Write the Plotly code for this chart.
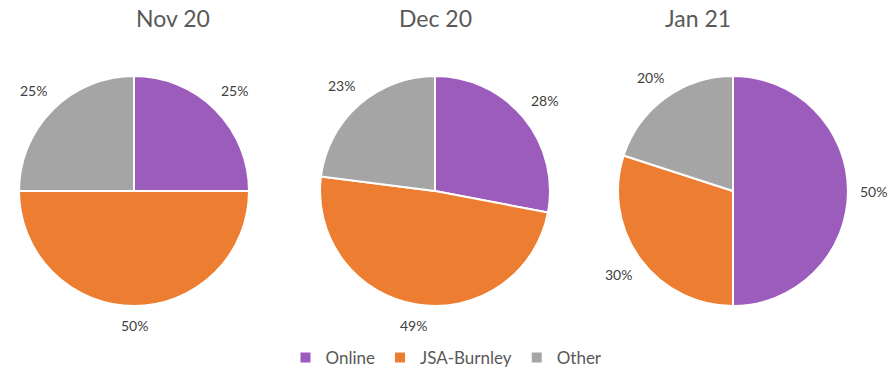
import math
import plotly.graph_objects as go

months = ["Nov 20", "Dec 20", "Jan 21"]
categories = ["Online", "JSA-Burnley", "Other"]
nov_values = [25, 50, 25]
dec_values = [28, 49, 23]
jan_values = [50, 30, 20]
colors = ["#9B5CBB", "#ED7D31", "#A5A5A5"]

W, H = 893, 376
series = [nov_values, dec_values, jan_values]
x_domains = [(19, 249), (320, 550), (618, 848)]
y_top, y_bot = 76, 306
R = (y_bot - y_top) / 2

fig = go.Figure()
for i, (m, vals) in enumerate(zip(months, series)):
    x0, x1 = x_domains[i]
    fig.add_trace(go.Pie(
        labels=categories, values=vals, sort=False, direction="clockwise", rotation=0,
        marker=dict(colors=colors, line=dict(color="white", width=2)),
        textinfo="none",
        domain=dict(x=[x0 / W, x1 / W], y=[1 - y_bot / H, 1 - y_top / H]),
        showlegend=(i == 0), hoverinfo="label+percent",
    ))
    fig.add_annotation(text=m, x=(x0 + x1) / 2 / W, y=1 - 18 / H, xref="paper", yref="paper",
                       showarrow=False, font=dict(size=23, color="#595959"), yanchor="middle")
    # data labels outside each slice
    cx, cy = (x0 + x1) / 2, (y_top + y_bot) / 2
    total = sum(vals)
    cum = 0
    for v in vals:
        mid = (cum + v / 2) / total * 2 * math.pi
        cum += v
        s, c = math.sin(mid), math.cos(mid)
        d = R + 11 + abs(s) * 14 + abs(c) * 8
        px, py = cx + d * s, cy - d * c
        fig.add_annotation(text=f"{round(v / total * 100)}%", x=px / W, y=1 - py / H,
                           xref="paper", yref="paper", showarrow=False,
                           xanchor="center", yanchor="middle",
                           font=dict(size=14, color="#404040"))

fig.update_layout(
    width=W, height=H, margin=dict(l=0, r=0, t=0, b=0),
    paper_bgcolor="white", plot_bgcolor="white",
    font=dict(family="Lato, Open Sans, sans-serif", color="#595959"),
    legend=dict(orientation="h", x=0.5, xanchor="center", y=1 - 358 / H, yanchor="middle",
                font=dict(size=17, color="#595959"), itemwidth=30, traceorder="normal"),
)
fig.write_html("out.html", config={"displayModeBar": False},
               post_script="document.body.style.margin='0';")
